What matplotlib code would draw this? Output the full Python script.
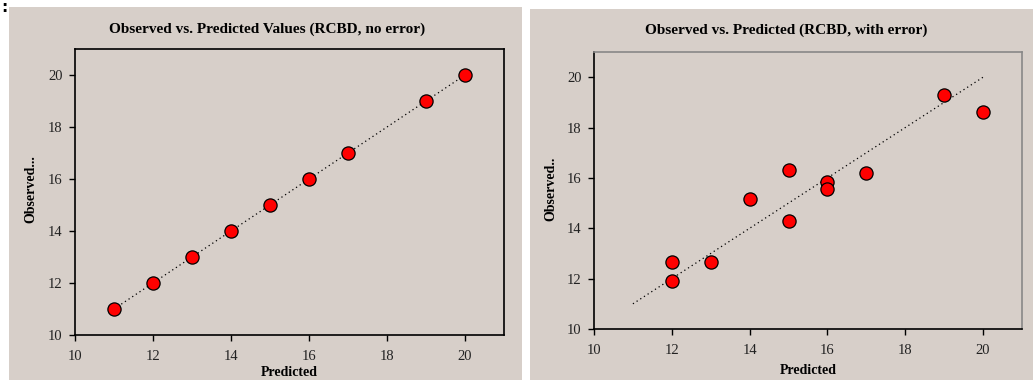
import matplotlib
matplotlib.use("Agg")
import matplotlib.pyplot as plt
from matplotlib.patches import Rectangle

# datos
pred_a = [11, 12, 13, 14, 15, 16, 17, 19, 20]
obs_a = [11, 12, 13, 14, 15, 16, 17, 19, 20]

pred_b = [12, 12, 13, 14, 15, 15, 16, 16, 17, 19, 20]
obs_b = [12.65, 11.9, 12.65, 15.15, 16.3, 14.3, 15.85, 15.55, 16.2, 19.3, 18.6]

line_x = [11, 20]
line_y = [11, 20]

ticks = [10, 12, 14, 16, 18, 20]

titles = ["Observed vs. Predicted Values (RCBD, no error)",
          "Observed vs. Predicted (RCBD, with error)"]
ylabels = ["Observed...", "Observed.."]

W, H = 1033, 380
BG = "#d7cfc9"
plt.rcParams["font.family"] = ["Liberation Serif", "DejaVu Serif"]

fig = plt.figure(figsize=(W / 100, H / 100), dpi=100)
fig.patch.set_facecolor("white")


def px(x0, y0, x1, y1):
    # caja en pixeles -> fraccion de figura
    return [x0 / W, 1 - y1 / H, (x1 - x0) / W, (y1 - y0) / H]


# fondos de los paneles
for box in [(9, 7, 522, 380), (530, 9, 1033, 380)]:
    r = px(*box)
    fig.patches.append(Rectangle((r[0], r[1]), r[2], r[3], transform=fig.transFigure,
                                 facecolor=BG, edgecolor="none", zorder=-5))

fig.text(1 / W, 1 - 8 / H, ":", fontsize=11, fontweight="bold", family="DejaVu Sans",
         va="center", ha="left")

axes_boxes = [(75, 49, 504, 335), (594, 52, 1022, 329)]
datasets = [(pred_a, obs_a), (pred_b, obs_b)]
title_pos = [(267, 29), (786, 30)]
ylab_x = [31, 551]
xlab_y = [373, 371]

for i in range(2):
    ax = fig.add_axes(px(*axes_boxes[i]))
    ax.set_facecolor(BG)
    x, y = datasets[i]
    ax.plot(line_x, line_y, linestyle=(0, (1, 2.5)), color="black", linewidth=0.9, zorder=1)
    ax.plot(x, y, "o", markerfacecolor="red", markeredgecolor="black",
            markeredgewidth=0.9, markersize=9.5, zorder=2)
    ax.set_xlim(10, 21)
    ax.set_ylim(10, 21)
    ax.set_xticks(ticks)
    ax.set_yticks(ticks)
    ax.tick_params(labelsize=10.5, length=4, width=1, direction="out", colors="black",
                   labelcolor="#222222")
    ax.tick_params(axis="x", pad=7)
    ax.tick_params(axis="y", pad=5)
    for side in ["left", "bottom"]:
        ax.spines[side].set_color("black")
        ax.spines[side].set_linewidth(1.2)
    top_color = "black" if i == 0 else "#888888"
    for side in ["top", "right"]:
        ax.spines[side].set_color(top_color)
        ax.spines[side].set_linewidth(1.2)

    bx = axes_boxes[i]
    cx = (bx[0] + bx[2]) / 2 / W
    fig.text(title_pos[i][0] / W, 1 - title_pos[i][1] / H, titles[i], fontsize=11,
             fontweight="bold", ha="center", va="center")
    fig.text(cx, 1 - xlab_y[i] / H, "Predicted", fontsize=10, fontweight="bold",
             ha="center", va="center")
    fig.text(ylab_x[i] / W, 1 - 189 / H, ylabels[i], fontsize=10, fontweight="bold",
             rotation=90, ha="center", va="center")

fig.savefig("out.png", dpi=100, facecolor=fig.get_facecolor())
